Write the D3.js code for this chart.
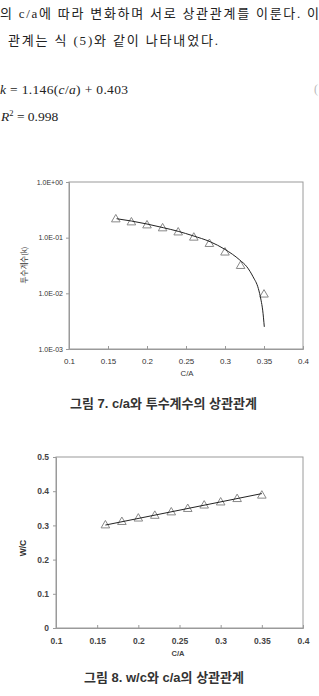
<!DOCTYPE html>
<html><head><meta charset="utf-8">
<script src="https://cdn.jsdelivr.net/npm/d3@7"></script>
<style>
body{margin:0;background:#fff;}
svg{display:block;}
</style></head>
<body>
<svg id="c" width="319" height="696"></svg>
<script>
// ---- data ----
const caRatio = [0.16,0.18,0.20,0.22,0.24,0.26,0.28,0.30,0.32,0.35];
const permeability = [0.213,0.188,0.166,0.147,0.124,0.100,0.077,0.054,0.031,0.0095];
const fitCurveX = [0.161,0.180,0.200,0.221,0.240,0.259,0.281,0.300,0.319,0.328,0.336,0.3427,0.3462,0.3483,0.3504];
const fitCurveY = [0.219,0.199,0.176,0.151,0.130,0.108,0.0845,0.0615,0.0396,0.030,0.0198,0.01225,0.00755,0.00499,0.0025];
const wcRatio = [0.300,0.310,0.320,0.328,0.338,0.348,0.358,0.367,0.377,0.387];
const wcFitX = [0.16,0.35];
const wcFitY = [0.301,0.393];
const xTicks = [0.1,0.15,0.2,0.25,0.3,0.35,0.4];
const logTicks = [1,0.1,0.01,0.001];
const logTickLabels = ["1.0E+00","1.0E-01","1.0E-02","1.0E-03"];
const wcTicks = [0,0.1,0.2,0.3,0.4,0.5];
const bodyLines = ["의 c/a에 따라 변화하며 서로 상관관계를 이룬다. 이","관계는 식 (5)와 같이 나타내었다."];
const caption7 = "그림 7. c/a와 투수계수의 상관관계";
const caption8 = "그림 8. w/c와 c/a의 상관관계";

const svg = d3.select("#c");
const kr = "'Noto Sans CJK KR', sans-serif";
const krCap = "'Liberation Sans', 'Noto Sans CJK KR', sans-serif";
const lat = "'Liberation Sans', Arial, sans-serif";
const serif = "'Liberation Serif', 'Noto Sans CJK KR', serif";

// ---- body text ----
svg.append("text").attr("x",0).attr("y",18).attr("font-family",serif).attr("font-size",13)
  .attr("fill","#222").attr("textLength",319).attr("lengthAdjust","spacing").text(bodyLines[0]);
svg.append("text").attr("x",8).attr("y",45).attr("font-family",serif).attr("font-size",13)
  .attr("fill","#222").attr("textLength",210).attr("lengthAdjust","spacing").text(bodyLines[1]);

// equations
const eq1 = svg.append("text").attr("x",0).attr("y",94).attr("font-family",serif).attr("font-size",13.5)
  .attr("fill","#222").attr("textLength",128).attr("lengthAdjust","spacing");
eq1.append("tspan").attr("font-style","italic").text("k");
eq1.append("tspan").text(" = 1.146(");
eq1.append("tspan").attr("font-style","italic").text("c");
eq1.append("tspan").text("/");
eq1.append("tspan").attr("font-style","italic").text("a");
eq1.append("tspan").text(") + 0.403");
svg.append("text").attr("x",314).attr("y",93).attr("font-family",serif).attr("font-size",12)
  .attr("fill","#bbb").text("(");
const eq2 = svg.append("text").attr("x",1).attr("y",121).attr("font-family",serif).attr("font-size",13.5).attr("fill","#222");
eq2.append("tspan").attr("font-style","italic").text("R");
eq2.append("tspan").attr("font-size",8.5).attr("dy",-5.5).text("2");
eq2.append("tspan").attr("dy",5.5).text(" = 0.998");

const tri = d3.symbol().type(d3.symbolTriangle).size(32);
const axisCol = "#9a9a9a", txtCol = "#333";

// ---- chart 1 ----
{
  const x = d3.scaleLinear().domain([0.1,0.4]).range([69,303]);
  const y = d3.scaleLog().domain([0.001,1]).range([349,182]);
  const g = svg.append("g");
  g.append("rect").attr("x",x(0.1)).attr("y",y(1)).attr("width",x(0.4)-x(0.1)).attr("height",y(0.001)-y(1))
    .attr("fill","none").attr("stroke",axisCol).attr("stroke-width",1);
  const ax = g.append("g").attr("transform",`translate(0,${y(0.001)})`)
    .call(d3.axisBottom(x).tickValues(xTicks).tickFormat(d=>String(d)).tickSize(-3).tickPadding(9));
  const ay = g.append("g").attr("transform",`translate(${x(0.1)},0)`)
    .call(d3.axisLeft(y).tickValues(logTicks).tickFormat((d,i)=>logTickLabels[i]).tickSize(3).tickPadding(3));
  [ax,ay].forEach(a=>{
    a.select(".domain").attr("stroke",axisCol);
    a.selectAll(".tick line").attr("stroke",axisCol);
    a.selectAll("text").attr("font-family",lat).attr("fill",txtCol);
  });
  ax.selectAll("text").attr("font-size",8);
  ay.selectAll("text").attr("font-size",7);
  g.append("text").attr("x",187).attr("y",375.5).attr("text-anchor","middle").attr("font-family",lat)
    .attr("font-size",7.8).attr("fill",txtCol).text("C/A");
  g.append("text").attr("transform","translate(27,265) rotate(-90)").attr("text-anchor","middle")
    .attr("font-family",kr).attr("font-size",7.5).attr("fill",txtCol).text("투수계수(k)");
  g.selectAll("path.pt").data(caRatio).join("path").attr("class","pt")
    .attr("d",tri).attr("transform",(d,i)=>`translate(${x(d)},${y(permeability[i])})`)
    .attr("fill","#fff").attr("stroke","#888").attr("stroke-width",1);
  const line = d3.line().x(d=>x(d[0])).y(d=>y(d[1])).curve(d3.curveMonotoneX);
  g.append("path").datum(fitCurveX.map((v,i)=>[v,fitCurveY[i]])).attr("d",line)
    .attr("fill","none").attr("stroke","#222").attr("stroke-width",1);
  svg.append("text").attr("x",163.5).attr("y",407.5).attr("text-anchor","middle").attr("font-family",krCap)
    .attr("font-size",13).attr("font-weight",700).attr("fill","#333").text(caption7);
}

// ---- chart 2 ----
{
  const x = d3.scaleLinear().domain([0.1,0.4]).range([56,303]);
  const y = d3.scaleLinear().domain([0,0.5]).range([628,457]);
  const g = svg.append("g");
  g.append("rect").attr("x",x(0.1)).attr("y",y(0.5)).attr("width",x(0.4)-x(0.1)).attr("height",y(0)-y(0.5))
    .attr("fill","none").attr("stroke",axisCol).attr("stroke-width",1);
  const ax = g.append("g").attr("transform",`translate(0,${y(0)})`)
    .call(d3.axisBottom(x).tickValues(xTicks).tickFormat(d=>String(d)).tickSize(-3).tickPadding(10));
  const ay = g.append("g").attr("transform",`translate(${x(0.1)},0)`)
    .call(d3.axisLeft(y).tickValues(wcTicks).tickFormat(d=>String(d)).tickSize(3).tickPadding(4));
  [ax,ay].forEach(a=>{
    a.select(".domain").attr("stroke",axisCol);
    a.selectAll(".tick line").attr("stroke",axisCol);
    a.selectAll("text").attr("font-family",lat).attr("font-size",8.5).attr("font-weight",700).attr("fill","#444");
  });
  g.append("text").attr("x",178).attr("y",656).attr("text-anchor","middle").attr("font-family",lat)
    .attr("font-size",7.5).attr("font-weight",700).attr("fill","#444").text("C/A");
  g.append("text").attr("transform","translate(26,548) rotate(-90)").attr("text-anchor","middle")
    .attr("font-family",lat).attr("font-size",8.5).attr("font-weight",700).attr("fill","#333").text("W/C");
  g.selectAll("path.pt").data(caRatio).join("path").attr("class","pt")
    .attr("d",tri).attr("transform",(d,i)=>`translate(${x(d)},${y(wcRatio[i])})`)
    .attr("fill","#fff").attr("stroke","#888").attr("stroke-width",1);
  g.append("path").datum(wcFitX.map((v,i)=>[v,wcFitY[i]])).attr("d",d3.line().x(d=>x(d[0])).y(d=>y(d[1])))
    .attr("fill","none").attr("stroke","#222").attr("stroke-width",1);
  svg.append("text").attr("x",164).attr("y",681.5).attr("text-anchor","middle").attr("font-family",krCap)
    .attr("font-size",13).attr("font-weight",700).attr("fill","#333").text(caption8);
}
</script>
</body></html>
